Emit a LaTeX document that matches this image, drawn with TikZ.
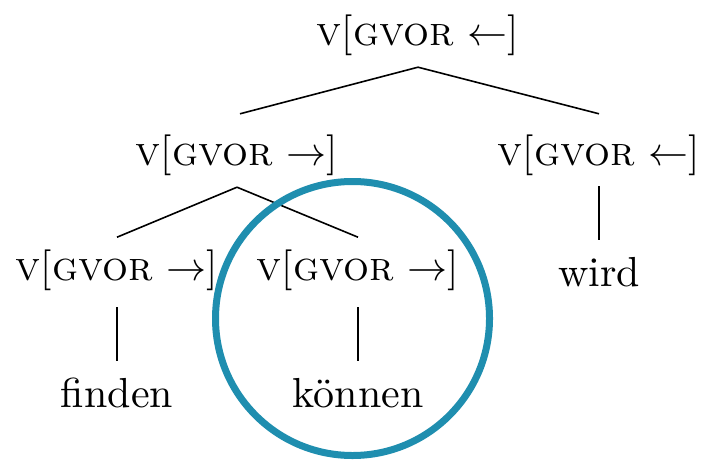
\documentclass[tikz,border=0pt]{standalone}
\usepackage{amsmath}
\usepackage{amssymb}
\usepackage{xcolor}
\definecolor{ringblue}{HTML}{1F8EAF}
\newcommand{\gvor}[1]{{\fontsize{10.2}{12}\selectfont\textsc{v}[\textsc{gvor} $#1$]}}

\begin{document}
\begin{tikzpicture}[x=0.25pt,y=-0.25pt]
	\tikzstyle{every node}+=[inner sep=2pt, font=\fontsize{10.5}{12}\selectfont]
	\tikzset{branch/.style={black, line width=0.4pt}}
	\useasboundingbox (0,0) rectangle (703,459);
	\node (root) at (418,35) {\gvor{\leftarrow}};
	\node (vl) at (237,155) {\gvor{\rightarrow}};
	\node (vr) at (599,155) {\gvor{\leftarrow}};
	\node (vll) at (117,270) {\gvor{\rightarrow}};
	\node (vlr) at (358,270) {\gvor{\rightarrow}};
	\node (finden) at (117,393) {finden};
	\node (koennen) at (358,393) {können};
	\node (wird) at (599,272) {wird};
	\coordinate (rootfoot) at ([yshift=-0.75pt]root.south);
	\coordinate (vlfoot) at ([yshift=-0.75pt]vl.south);
	\coordinate (vlhead) at ([xshift=0.75pt,yshift=3pt]vl.north);
	\coordinate (vrhead) at ([yshift=3pt]vr.north);
	\coordinate (vllhead) at ([yshift=0.9pt]vll.north);
	\coordinate (vlrhead) at ([yshift=0.9pt]vlr.north);
	\draw [branch] (rootfoot) -- (vlhead);
	\draw [branch] (rootfoot) -- (vrhead);
	\draw [branch] (vlfoot) -- (vllhead);
	\draw [branch] (vlfoot) -- (vlrhead);
	\draw [branch, shorten <=2pt, shorten >=2pt] (vll.south) -- (finden.north);
	\draw [branch, shorten <=2pt, shorten >=2pt] (vlr.south) -- (koennen.north);
	\draw [branch, shorten <=0.5pt, shorten >=2pt] (vr.south) -- (wird.north);
	\draw [ringblue, line width=1.75pt] (352.5,318.5) circle (137);
\end{tikzpicture}
\end{document}
